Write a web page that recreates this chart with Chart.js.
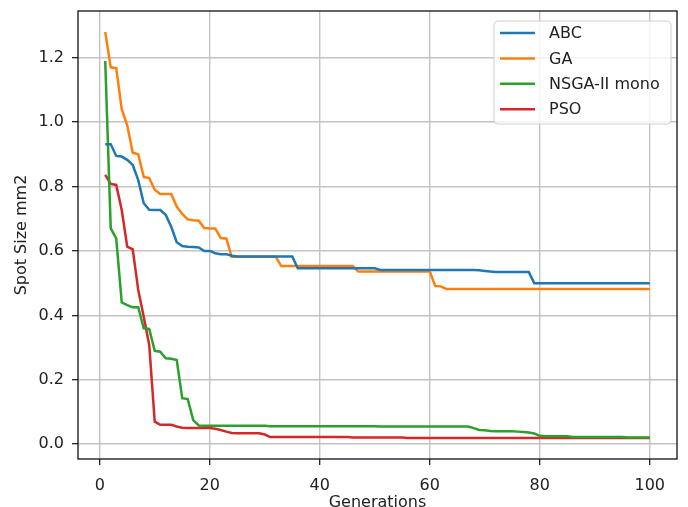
<!DOCTYPE html>
<html>
<head>
<meta charset="utf-8">
<script src="https://cdn.jsdelivr.net/npm/chart.js@4"></script>
<style>
  html, body { margin: 0; padding: 0; background: #fff; }
  #wrap { width: 688px; height: 507px; }
</style>
</head>
<body>
<div id="wrap"><canvas id="spot" width="688" height="507"></canvas></div>
<script>
// Best spot size per generation for each optimiser
var generations = [];
for (var g = 1; g <= 100; g++) generations.push(g);

var abcValues = [
  0.931, 0.931, 0.895, 0.893, 0.883, 0.867, 0.820, 0.748, 0.728, 0.727,
  0.727, 0.712, 0.675, 0.627, 0.615, 0.613, 0.612, 0.611, 0.600, 0.600,
  0.593, 0.590, 0.590, 0.585, 0.583, 0.583, 0.583, 0.583, 0.583, 0.583,
  0.583, 0.583, 0.583, 0.583, 0.583, 0.546, 0.546, 0.546, 0.546, 0.546,
  0.546, 0.546, 0.546, 0.546, 0.546, 0.546, 0.546, 0.546, 0.546, 0.546,
  0.541, 0.541, 0.541, 0.541, 0.541, 0.541, 0.541, 0.541, 0.541, 0.541,
  0.541, 0.541, 0.541, 0.541, 0.541, 0.541, 0.541, 0.541, 0.540, 0.538,
  0.536, 0.535, 0.535, 0.535, 0.535, 0.535, 0.535, 0.535, 0.500, 0.500,
  0.500, 0.500, 0.500, 0.500, 0.500, 0.500, 0.500, 0.500, 0.500, 0.500,
  0.500, 0.500, 0.500, 0.500, 0.500, 0.500, 0.500, 0.500, 0.500, 0.500
];

var gaValues = [
  1.280, 1.170, 1.168, 1.040, 0.990, 0.905, 0.900, 0.830, 0.826, 0.790,
  0.777, 0.777, 0.777, 0.738, 0.715, 0.698, 0.695, 0.694, 0.671, 0.670,
  0.670, 0.640, 0.639, 0.582, 0.582, 0.582, 0.582, 0.582, 0.582, 0.582,
  0.582, 0.582, 0.553, 0.553, 0.553, 0.553, 0.553, 0.553, 0.553, 0.553,
  0.553, 0.553, 0.553, 0.553, 0.553, 0.553, 0.536, 0.536, 0.536, 0.536,
  0.536, 0.536, 0.536, 0.536, 0.536, 0.536, 0.536, 0.536, 0.536, 0.536,
  0.491, 0.490, 0.482, 0.482, 0.482, 0.482, 0.482, 0.482, 0.482, 0.482,
  0.482, 0.482, 0.482, 0.482, 0.482, 0.482, 0.482, 0.482, 0.482, 0.482,
  0.482, 0.482, 0.482, 0.482, 0.482, 0.482, 0.482, 0.482, 0.482, 0.482,
  0.482, 0.482, 0.482, 0.482, 0.482, 0.482, 0.482, 0.482, 0.482, 0.482
];

var nsgaValues = [
  1.190, 0.670, 0.639, 0.440, 0.432, 0.425, 0.425, 0.360, 0.358, 0.290,
  0.287, 0.267, 0.265, 0.261, 0.143, 0.140, 0.075, 0.058, 0.057, 0.057,
  0.057, 0.057, 0.057, 0.057, 0.057, 0.057, 0.057, 0.057, 0.057, 0.057,
  0.056, 0.056, 0.056, 0.056, 0.056, 0.056, 0.056, 0.056, 0.056, 0.056,
  0.056, 0.056, 0.056, 0.056, 0.056, 0.056, 0.056, 0.056, 0.056, 0.056,
  0.055, 0.055, 0.055, 0.055, 0.055, 0.055, 0.055, 0.055, 0.055, 0.055,
  0.055, 0.055, 0.055, 0.055, 0.055, 0.055, 0.055, 0.050, 0.044, 0.043,
  0.041, 0.040, 0.040, 0.040, 0.040, 0.039, 0.038, 0.036, 0.033, 0.026,
  0.025, 0.025, 0.025, 0.025, 0.025, 0.022, 0.022, 0.022, 0.022, 0.022,
  0.022, 0.022, 0.022, 0.022, 0.022, 0.021, 0.021, 0.021, 0.021, 0.021
];

var psoValues = [
  0.836, 0.808, 0.805, 0.727, 0.613, 0.605, 0.479, 0.396, 0.308, 0.070,
  0.060, 0.060, 0.060, 0.055, 0.051, 0.050, 0.050, 0.050, 0.050, 0.050,
  0.048, 0.044, 0.039, 0.035, 0.034, 0.034, 0.034, 0.034, 0.034, 0.030,
  0.022, 0.022, 0.022, 0.022, 0.022, 0.022, 0.022, 0.022, 0.022, 0.022,
  0.022, 0.022, 0.022, 0.022, 0.022, 0.021, 0.021, 0.021, 0.021, 0.021,
  0.021, 0.021, 0.021, 0.021, 0.021, 0.019, 0.019, 0.019, 0.019, 0.019,
  0.019, 0.019, 0.019, 0.019, 0.019, 0.019, 0.019, 0.019, 0.019, 0.019,
  0.019, 0.019, 0.019, 0.019, 0.019, 0.019, 0.019, 0.019, 0.019, 0.019,
  0.019, 0.019, 0.019, 0.019, 0.019, 0.019, 0.019, 0.019, 0.019, 0.019,
  0.019, 0.019, 0.019, 0.019, 0.019, 0.019, 0.019, 0.019, 0.019, 0.019
];

var seriesLabels = ['ABC', 'GA', 'NSGA-II mono', 'PSO'];
var xTicks = [0, 20, 40, 60, 80, 100];
var yTicks = [0.0, 0.2, 0.4, 0.6, 0.8, 1.0, 1.2];

var COLORS = {
  blue:   '#1f77b4',
  orange: '#ff7f0e',
  green:  '#2ca02c',
  red:    '#d62728',
  grid:   '#c4c4c4',
  text:   '#222222',
};

var FONT = "'DejaVu Sans', sans-serif";

function toPoints(values) {
  return values.map(function (v, i) { return { x: generations[i], y: v }; });
}

// frame around the plot area + boxed legend in the upper right
var framePlugin = {
  id: 'frame',
  afterDatasetsDraw: function (chart) {
    var a = chart.chartArea, ctx = chart.ctx;
    ctx.save();
    ctx.strokeStyle = '#111';
    ctx.lineWidth = 1.3;
    ctx.strokeRect(a.left, a.top, a.right - a.left, a.bottom - a.top);
    ctx.restore();
  },
  afterDraw: function (chart) {
    var a = chart.chartArea, ctx = chart.ctx;
    var w = 177, h = 103;
    var x = a.right - 6 - w, y = a.top + 10;
    ctx.save();
    ctx.beginPath();
    ctx.roundRect(x, y, w, h, 4);
    ctx.fillStyle = 'rgba(255,255,255,0.8)';
    ctx.fill();
    ctx.strokeStyle = '#d0d0d0';
    ctx.lineWidth = 1;
    ctx.stroke();
    ctx.font = '16px ' + FONT;
    ctx.textBaseline = 'middle';
    ctx.fillStyle = COLORS.text;
    chart.data.datasets.forEach(function (d, i) {
      var ry = y + 12 + i * 25.4;
      ctx.beginPath();
      ctx.moveTo(x + 6, ry);
      ctx.lineTo(x + 41, ry);
      ctx.strokeStyle = d.borderColor;
      ctx.lineWidth = d.borderWidth;
      ctx.stroke();
      ctx.fillText(d.label, x + 55, ry + 1);
    });
    ctx.restore();
  },
};

var palette = [COLORS.blue, COLORS.orange, COLORS.green, COLORS.red];
var allValues = [abcValues, gaValues, nsgaValues, psoValues];

new Chart(document.getElementById('spot').getContext('2d'), {
  type: 'line',
  data: {
    datasets: allValues.map(function (vals, i) {
      return {
        label:       seriesLabels[i],
        data:        toPoints(vals),
        borderColor: palette[i],
        borderWidth: 2.5,
        pointRadius: 0,
        tension:     0,
        fill:        false,
      };
    }),
  },
  options: {
    responsive: false,
    animation:  false,
    layout: { padding: { left: 0, top: 11, right: 11, bottom: 0 } },
    plugins: {
      legend:  { display: false },
      tooltip: { enabled: false },
    },
    scales: {
      x: {
        type: 'linear',
        min: -3.95,
        max: 104.95,
        afterBuildTicks: function (s) { s.ticks = xTicks.map(function (v) { return { value: v }; }); },
        afterFit: function (s) { s.height = 48; s.paddingLeft = 0; s.paddingRight = 0; },
        grid:   { color: COLORS.grid, lineWidth: 1.4, tickColor: '#111', tickLength: 6, tickWidth: 1.2 },
        border: { display: false },
        ticks:  { color: COLORS.text, font: { family: FONT, size: 16 }, padding: 11, maxRotation: 0 },
        title:  { display: true, text: 'Generations', color: COLORS.text,
                  font: { family: FONT, size: 16, lineHeight: 0.55 }, padding: { top: 0, bottom: 0 } },
      },
      y: {
        type: 'linear',
        min: -0.046,
        max: 1.345,
        afterBuildTicks: function (s) { s.ticks = yTicks.map(function (v) { return { value: v }; }); },
        afterFit: function (s) { s.width = 78; s.paddingTop = 0; s.paddingBottom = 0; },
        grid:   { color: COLORS.grid, lineWidth: 1.4, tickColor: '#111', tickLength: 6, tickWidth: 1.2 },
        border: { display: false },
        ticks:  { color: COLORS.text, font: { family: FONT, size: 16 }, padding: 8,
                  callback: function (v) { return v.toFixed(1); } },
        title:  { display: true, text: 'Spot Size mm2', color: COLORS.text,
                  font: { family: FONT, size: 16, lineHeight: 1.2 }, padding: { top: 12, bottom: 0 } },
      },
    },
  },
  plugins: [framePlugin],
});
</script>
</body>
</html>
